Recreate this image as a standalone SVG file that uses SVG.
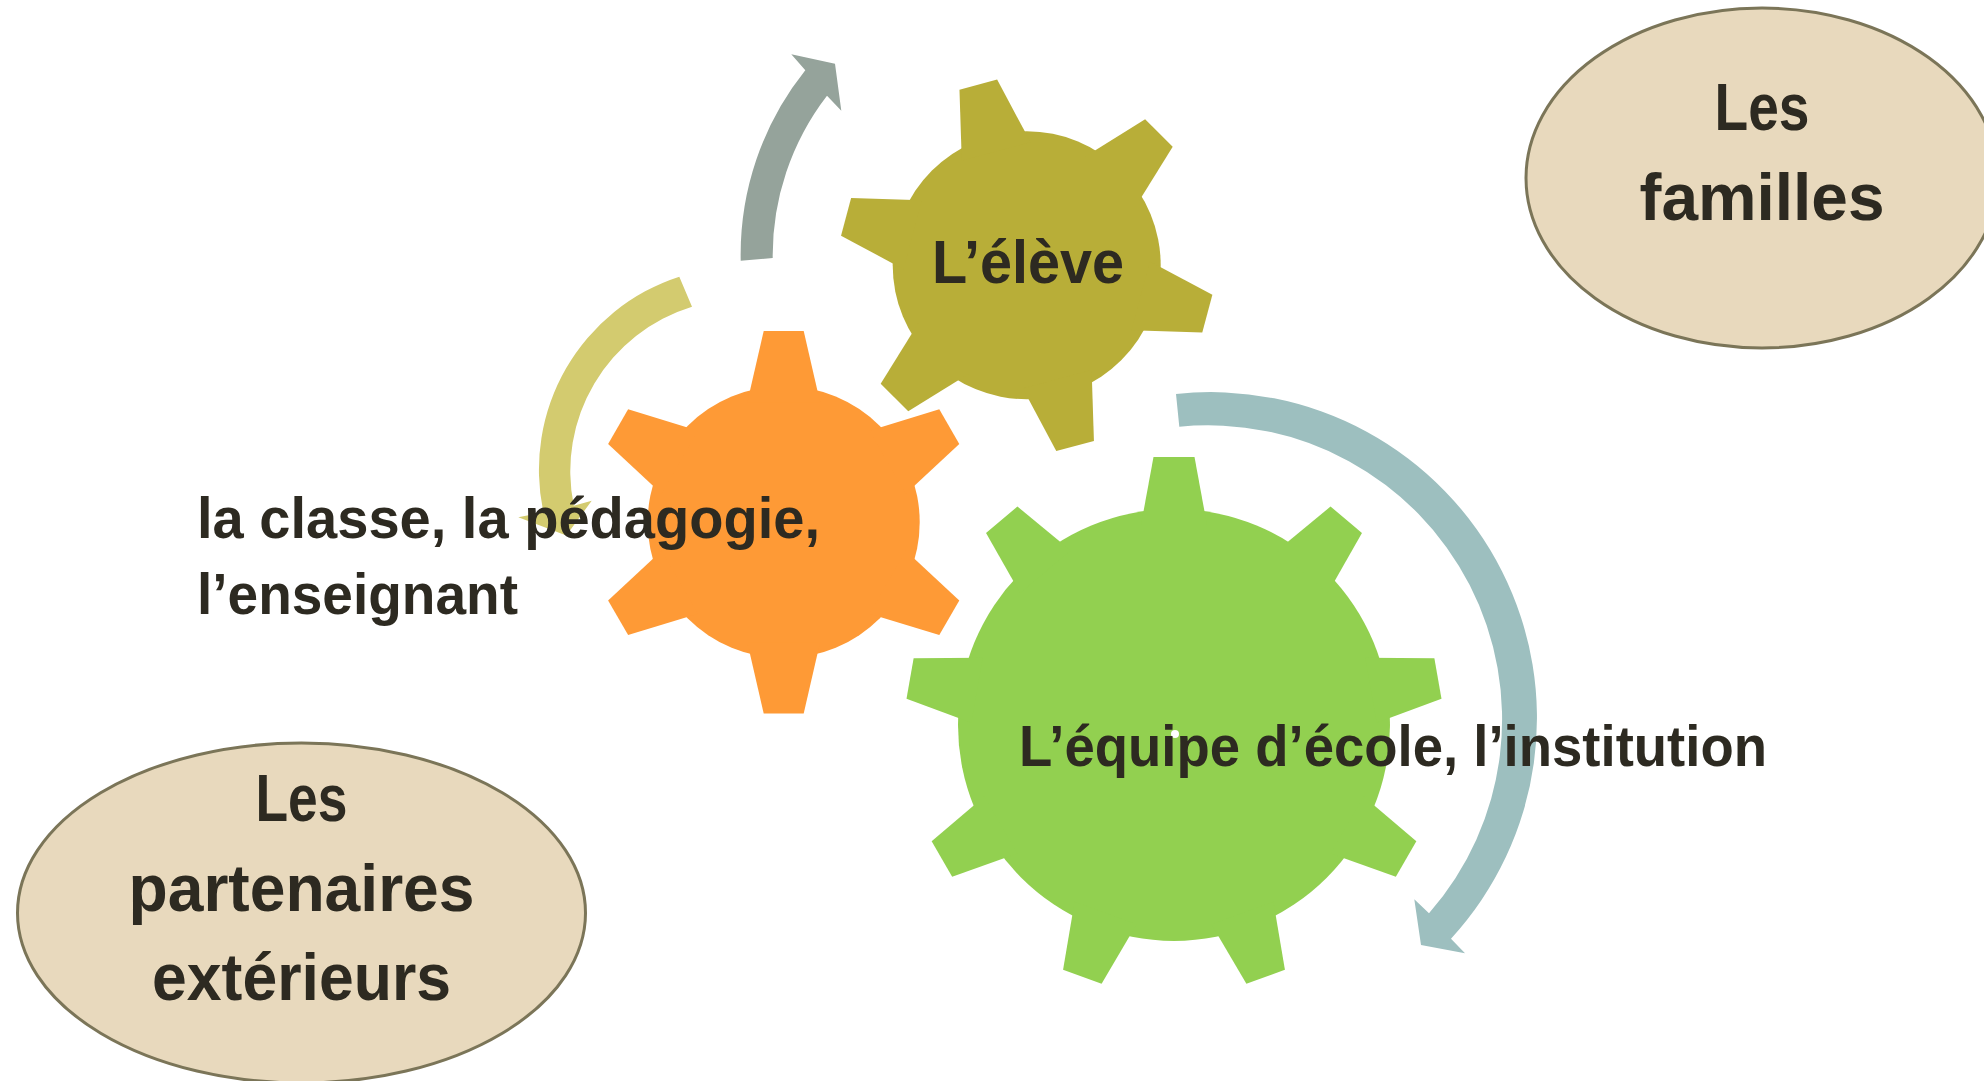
<svg xmlns="http://www.w3.org/2000/svg" xmlns:xlink="http://www.w3.org/1999/xlink" width="1984" height="1081" viewBox="0 0 1984 1081">
<style>
.t{font-family:"Liberation Sans",Arial,sans-serif;font-weight:bold;fill:#2d2a21;}
.oval{fill:#e8d9bd;stroke:#7b7558;stroke-width:3;}
</style>
<defs>
<polygon id="t6o" points="120,-36.4 191.2,-20 191.2,20 120,36.4"/>
<polygon id="t6y" points="118,-35.6 187,-19.5 187,19.5 118,35.6"/>
<polygon id="t9" points="200,-33 268,-20.5 268,20.5 200,33"/>
</defs>
<rect width="1984" height="1081" fill="#ffffff"/>
<g id="connectors">
<path id="arrow-gray" fill="#95a39b" d="M740.7,260.7 A295,295 0 0 1 805.3,70.3 L791.3,54.3 L835,63.7 L841.3,110.7 L827,95.7 A262,262 0 0 0 772.7,258 Z"/>
<path id="arrow-yellow" fill="#d3cb6f" d="M679.3,276.7 A203,203 0 0 0 543.4,512.2 L518.3,517.3 L566.3,535.4 L591.7,500.7 L573.8,505.8 A172,172 0 0 1 692,306.7 Z"/>
<path id="arrow-blue" fill="#9dbfbf" d="M1176,394 A326,326 0 0 1 1451,938.7 L1465,953.3 L1421,945 L1414.3,899.3 L1429,913.3 A294,294 0 0 0 1179.3,426.7 Z"/>
</g>
<g id="gear-eleve" transform="translate(1026.7,265.3)" fill="#b8ae38">
<circle r="134"/>
<use xlink:href="#t6y" href="#t6y" transform="rotate(15)"/>
<use xlink:href="#t6y" href="#t6y" transform="rotate(75)"/>
<use xlink:href="#t6y" href="#t6y" transform="rotate(135)"/>
<use xlink:href="#t6y" href="#t6y" transform="rotate(195)"/>
<use xlink:href="#t6y" href="#t6y" transform="rotate(255)"/>
<use xlink:href="#t6y" href="#t6y" transform="rotate(315)"/>
</g>
<g id="gear-classe" transform="translate(783.7,522.2)" fill="#fe9a36">
<circle r="136"/>
<use xlink:href="#t6o" href="#t6o" transform="rotate(-90)"/>
<use xlink:href="#t6o" href="#t6o" transform="rotate(-30)"/>
<use xlink:href="#t6o" href="#t6o" transform="rotate(30)"/>
<use xlink:href="#t6o" href="#t6o" transform="rotate(90)"/>
<use xlink:href="#t6o" href="#t6o" transform="rotate(150)"/>
<use xlink:href="#t6o" href="#t6o" transform="rotate(210)"/>
</g>
<g id="gear-equipe" transform="translate(1174,725)" fill="#92d050">
<circle r="216"/>
<use xlink:href="#t9" href="#t9" transform="rotate(-90)"/>
<use xlink:href="#t9" href="#t9" transform="rotate(-50)"/>
<use xlink:href="#t9" href="#t9" transform="rotate(-10)"/>
<use xlink:href="#t9" href="#t9" transform="rotate(30)"/>
<use xlink:href="#t9" href="#t9" transform="rotate(70)"/>
<use xlink:href="#t9" href="#t9" transform="rotate(110)"/>
<use xlink:href="#t9" href="#t9" transform="rotate(150)"/>
<use xlink:href="#t9" href="#t9" transform="rotate(190)"/>
<use xlink:href="#t9" href="#t9" transform="rotate(230)"/>
<circle cx="1" cy="9" r="4" fill="#ffffff"/>
</g>
<g id="node-familles">
<ellipse class="oval" cx="1762" cy="178" rx="236" ry="170"/>
<text class="t" x="1762" y="130" font-size="66" text-anchor="middle" textLength="95" lengthAdjust="spacingAndGlyphs">Les</text>
<text class="t" x="1762" y="220" font-size="66" text-anchor="middle" textLength="245" lengthAdjust="spacingAndGlyphs">familles</text>
</g>
<g id="node-partenaires">
<ellipse class="oval" cx="301.5" cy="913" rx="284" ry="170"/>
<text class="t" x="301.5" y="821" font-size="66" text-anchor="middle" textLength="92" lengthAdjust="spacingAndGlyphs">Les</text>
<text class="t" x="301.5" y="911" font-size="66" text-anchor="middle" textLength="346" lengthAdjust="spacingAndGlyphs">partenaires</text>
<text class="t" x="301.5" y="1000" font-size="66" text-anchor="middle" textLength="299" lengthAdjust="spacingAndGlyphs">extérieurs</text>
</g>
<g id="labels">
<text class="t" x="1028" y="283" font-size="62" text-anchor="middle" textLength="192" lengthAdjust="spacingAndGlyphs">L’élève</text>
<text class="t" x="197" y="538" font-size="57" textLength="623" lengthAdjust="spacingAndGlyphs">la classe, la pédagogie,</text>
<text class="t" x="197" y="614" font-size="57" textLength="321" lengthAdjust="spacingAndGlyphs">l’enseignant</text>
<text class="t" x="1019" y="766" font-size="58" textLength="748" lengthAdjust="spacingAndGlyphs">L’équipe d’école, l’institution</text>
</g>
</svg>
